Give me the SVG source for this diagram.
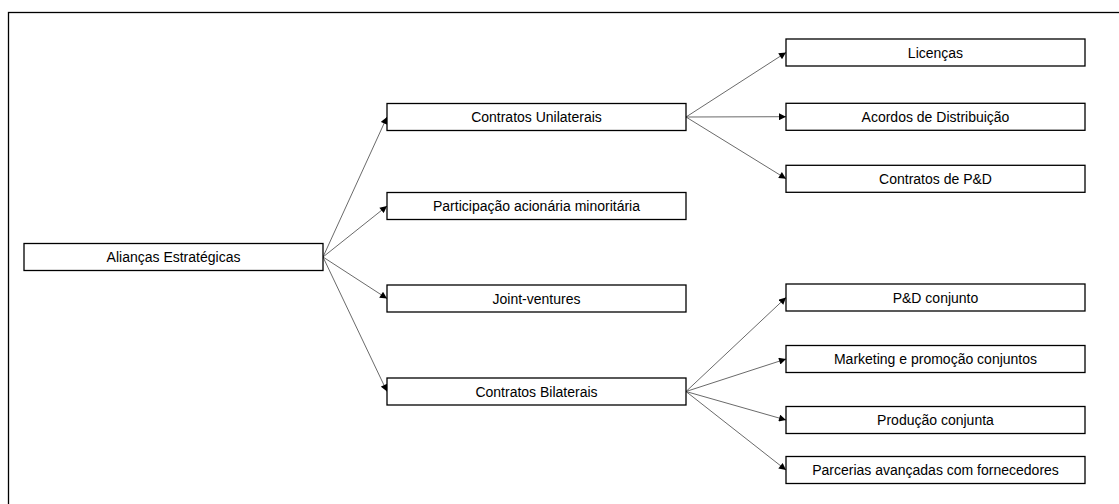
<svg xmlns="http://www.w3.org/2000/svg" width="1119" height="504" viewBox="0 0 1119 504">
<style>
.box{fill:#fff;stroke:#000;stroke-width:1.3}
.lbl{font-family:"Liberation Sans",Arial,sans-serif;font-size:14px;fill:#000;text-anchor:middle;dominant-baseline:central}
.conn{stroke:#444;stroke-width:0.8;fill:none;marker-end:url(#arr)}
</style>
<defs>
<marker id="arr" viewBox="0 0 10 10" refX="10" refY="5" markerWidth="8" markerHeight="7" markerUnits="userSpaceOnUse" orient="auto">
<path d="M0,0 L10,5 L0,10 Z" fill="#000"/>
</marker>
</defs>
<rect x="8.5" y="12.5" width="1200" height="600" fill="none" stroke="#000" stroke-width="1.3"/>
<g id="connectors">
<line class="conn" x1="323" y1="257" x2="387" y2="117"/>
<line class="conn" x1="323" y1="257" x2="387" y2="206"/>
<line class="conn" x1="323" y1="257" x2="387" y2="298.5"/>
<line class="conn" x1="323" y1="257" x2="387" y2="391.5"/>
<line class="conn" x1="686" y1="117" x2="786" y2="52.5"/>
<line class="conn" x1="686" y1="117" x2="786" y2="116.7"/>
<line class="conn" x1="686" y1="117" x2="786" y2="178.7"/>
<line class="conn" x1="686" y1="391.5" x2="786" y2="297.5"/>
<line class="conn" x1="686" y1="391.5" x2="786" y2="359"/>
<line class="conn" x1="686" y1="391.5" x2="786" y2="420"/>
<line class="conn" x1="686" y1="391.5" x2="786" y2="470"/>
</g>
<g id="n-aliancas"><rect class="box" x="24" y="243.5" width="299" height="27"/><text class="lbl" x="173.5" y="257">Alianças Estratégicas</text></g>
<g id="n-unilaterais"><rect class="box" x="387" y="103.5" width="299" height="27"/><text class="lbl" x="536.5" y="117">Contratos Unilaterais</text></g>
<g id="n-participacao"><rect class="box" x="387" y="192.5" width="299" height="27"/><text class="lbl" x="536.5" y="206">Participação acionária minoritária</text></g>
<g id="n-joint"><rect class="box" x="387" y="285" width="299" height="27"/><text class="lbl" x="536.5" y="298.5">Joint-ventures</text></g>
<g id="n-bilaterais"><rect class="box" x="387" y="378" width="299" height="27"/><text class="lbl" x="536.5" y="391.5">Contratos Bilaterais</text></g>
<g id="n-licencas"><rect class="box" x="786" y="39" width="299" height="27"/><text class="lbl" x="935.5" y="52.5">Licenças</text></g>
<g id="n-acordos"><rect class="box" x="786" y="103.3" width="299" height="27"/><text class="lbl" x="935.5" y="116.7">Acordos de Distribuição</text></g>
<g id="n-contratos-pd"><rect class="box" x="786" y="165.3" width="299" height="27"/><text class="lbl" x="935.5" y="178.7">Contratos de P&amp;D</text></g>
<g id="n-pd-conjunto"><rect class="box" x="786" y="284" width="299" height="27"/><text class="lbl" x="935.5" y="297.5">P&amp;D conjunto</text></g>
<g id="n-marketing"><rect class="box" x="786" y="345.5" width="299" height="27"/><text class="lbl" x="935.5" y="359">Marketing e promoção conjuntos</text></g>
<g id="n-producao"><rect class="box" x="786" y="406.5" width="299" height="27"/><text class="lbl" x="935.5" y="420">Produção conjunta</text></g>
<g id="n-parcerias"><rect class="box" x="786" y="456.5" width="299" height="27"/><text class="lbl" x="935.5" y="470">Parcerias avançadas com fornecedores</text></g>
</svg>
